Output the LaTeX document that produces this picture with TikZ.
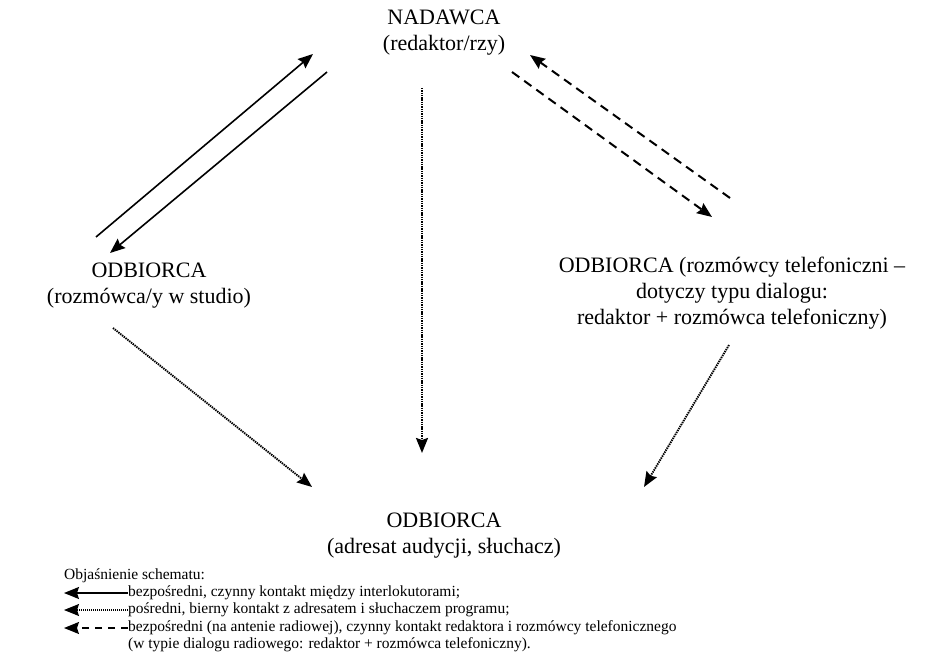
\documentclass[tikz,border=0pt]{standalone}
\usepackage{fontspec}
\setmainfont{Liberation Serif}
\usepackage{tikz}
\usetikzlibrary{arrows.meta,positioning,calc}

\begin{document}
\begin{tikzpicture}[
    x=1pt, y=-1pt,
    role/.style={align=center, inner sep=0pt, font=\fontsize{22}{26}\selectfont},
    legtext/.style={anchor=west, inner sep=0pt, font=\fontsize{15.5}{17}\selectfont},
    arrow/.style={-{Stealth[length=15pt, width=12pt, inset=2pt]}, line width=1.6pt},
    dotline/.style={arrow, line width=1.9pt, dash pattern=on 1.4pt off 0.9pt},
    dashline/.style={arrow, line width=2pt, dash pattern=on 9pt off 6pt}
]
\useasboundingbox (0,0) rectangle (929,666);

% Participant nodes
\node[role] (sender) at (444,33) {NADAWCA\\(redaktor/rzy)};
\node[role] (studio) at (149,286) {ODBIORCA\\(rozmówca/y w studio)};
\node[role] (phone) at (732,293) {ODBIORCA (rozmówcy telefoniczni --\\dotyczy typu dialogu:\\redaktor + rozmówca telefoniczny)};
\node[role] (listener) at (444,536) {ODBIORCA\\(adresat audycji, słuchacz)};

% Arrow end points
\coordinate (studioUp) at (96,237);
\coordinate (senderL) at (313,54);
\coordinate (senderL2) at (327,72);
\coordinate (studioTop) at (110,253);
\coordinate (phoneUp) at (730,198);
\coordinate (senderR) at (530,55);
\coordinate (senderR2) at (512,72);
\coordinate (phoneTop) at (712,217);
\coordinate (senderB) at (422,88);
\coordinate (listenerT) at (422,453);
\coordinate (studioB) at (113,328);
\coordinate (listenerL) at (312,487);
\coordinate (phoneB) at (729,345);
\coordinate (listenerR) at (644,487);

% Direct contact (studio)
\draw[arrow] (studioUp) -- (senderL);
\draw[arrow] (senderL2) -- (studioTop);

% Direct contact on air (phone)
\draw[dashline] (phoneUp) -- (senderR);
\draw[dashline] (senderR2) -- (phoneTop);

% Indirect contact with the listener
\draw[dotline] (senderB) -- (listenerT);
\draw[dotline] (studioB) -- (listenerL);
\draw[dotline] (phoneB) -- (listenerR);

% Legend
\node[legtext] (leghead) at (64,576) {Objaśnienie schematu:};
\node[legtext] (leg1) at (128,593) {bezpośredni, czynny kontakt między interlokutorami;};
\node[legtext] (leg2) at (128,610) {pośredni, bierny kontakt z adresatem i słuchaczem programu;};
\node[legtext] (leg3) at (128,628) {bezpośredni (na antenie radiowej), czynny kontakt redaktora i rozmówcy telefonicznego};
\node[legtext] (leg4) at (128,645) {(w typie dialogu radiowego: redaktor + rozmówca telefoniczny).};

\draw[arrow, line width=1.4pt] (leg1.west) -- (leg1.west -| leghead.west);
\draw[dotline, line width=1.1pt, dash pattern=on 1pt off 1pt] (leg2.west) -- (leg2.west -| leghead.west);
\draw[dashline, line width=1.4pt, dash pattern=on 7pt off 6pt] (leg3.west) -- (leg3.west -| leghead.west);

\end{tikzpicture}
\end{document}
